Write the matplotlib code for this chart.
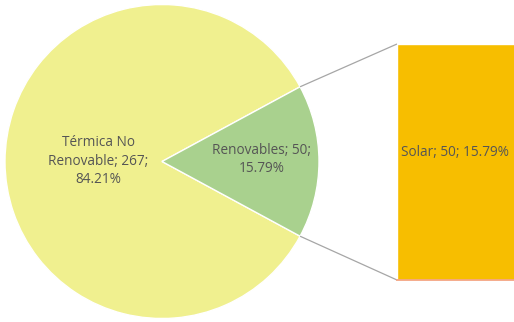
import matplotlib
matplotlib.use("Agg")
import matplotlib.pyplot as plt
import numpy as np

# Energy mix: main pie and the breakdown of the renewable share
categories = ["Térmica No Renovable", "Renovables"]
values = [266.7, 50.0]
pie_colors = ["#F0F08F", "#A9D18E"]

sub_categories = ["Solar"]
sub_values = [50.0]
sub_colors = ["#F7BE00"]

plt.rcParams['font.family'] = ['Open Sans', 'DejaVu Sans']
TEXT = "#555555"
FS = 9.8

W, H = 514, 322
fig = plt.figure(figsize=(W / 100, H / 100), dpi=100)
ax = fig.add_axes([0, 0, 1, 1])

total = sum(values)
cx, cy, r = 162, H - 161.5, 157
half = 180.0 * values[1] / total  # half-angle of the renewable wedge
ax.pie(values, colors=pie_colors, startangle=half, counterclock=True,
       center=(cx, cy), radius=r, frame=True,
       wedgeprops=dict(edgecolor="white", linewidth=1.0))
ax.set_xlim(0, W)
ax.set_ylim(0, H)
ax.set_aspect("equal")
ax.axis("off")

pct = [100.0 * v / total for v in values]
ax.text(98, H - 161, f"Térmica No\nRenovable; {values[0]:.0f};\n{pct[0]:.2f}%",
        ha="center", va="center", color=TEXT, fontsize=FS, linespacing=1.3)
ax.text(262, H - 159.5, f"{categories[1]}; {values[1]:.0f};\n{pct[1]:.2f}%",
        ha="center", va="center", color=TEXT, fontsize=FS, linespacing=1.3)

# Secondary bar for the renewable breakdown
bx0, by0, by1 = 397, H - 280, H - 44
bw = 0.3
bax = fig.add_axes([bx0 / W, by0 / H, bw, (by1 - by0) / H])
bax.set_xlim(0, 1)
bax.set_ylim(0, sum(sub_values))
bottom = 0
for name, v, c in zip(sub_categories, sub_values, sub_colors):
    bax.bar(0.5, v, width=1.0, bottom=bottom, color=c,
            edgecolor="white", linewidth=1.0)
    sub_pct = 100.0 * v / total
    bax.text((455 - bx0) / (W * bw), bottom + v * (1 - (153 - 44) / 236),
             f"{name}; {v:.0f}; {sub_pct:.2f}%", ha="center", va="center",
             color=TEXT, fontsize=FS)
    bottom += v
bax.axhline(0, color="#F4A582", linewidth=1.3, zorder=5, clip_on=False)
for s in bax.spines.values():
    s.set_visible(False)
bax.set_xticks([])
bax.set_yticks([])
bax.patch.set_alpha(0)

# Connector lines from the wedge edges to the bar corners
for ang, yb in [(half, by1), (-half, by0)]:
    t = np.deg2rad(ang)
    px, py = cx + r * np.cos(t), cy + r * np.sin(t)
    ax.plot([px, bx0], [py, yb], color="#A6A6A6", linewidth=0.9,
            solid_capstyle="butt")

fig.savefig("out.png", dpi=100, facecolor="white")
